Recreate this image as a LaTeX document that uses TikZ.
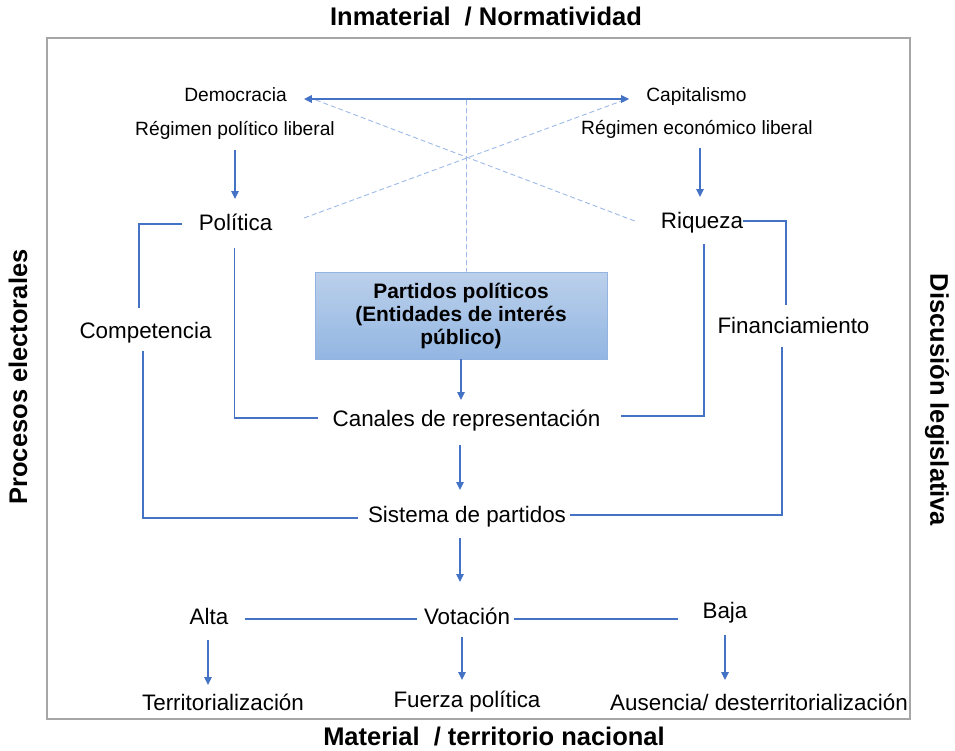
\documentclass[tikz,border=0pt]{standalone}
\usepackage{fontspec}
\setmainfont{Liberation Sans}
\usetikzlibrary{arrows.meta,calc}

\definecolor{linkblue}{HTML}{4472C4}
\definecolor{hintblue}{HTML}{9DB9E8}
\definecolor{framegray}{HTML}{A6A6A6}
\definecolor{boxtop}{HTML}{BBD0EB}
\definecolor{boxbot}{HTML}{93B6E2}
\definecolor{boxline}{HTML}{93B3E0}

\tikzset{
  lbl/.style={inner sep=0pt, anchor=base, font=\fontsize{22.4}{25}\selectfont},
  small/.style={inner sep=0pt, anchor=base, font=\fontsize{19.2}{22}\selectfont},
  header/.style={inner sep=0pt, anchor=base, font=\fontsize{25.5}{29}\selectfont\bfseries},
  side/.style={inner sep=0pt, font=\fontsize{25.5}{29}\selectfont\bfseries},
  link/.style={draw=linkblue, line width=1.6pt},
  arr/.style={link, -{Triangle[length=8pt,width=7.5pt]}},
  biarr/.style={link, {Triangle[length=8pt,width=7.5pt]}-{Triangle[length=8pt,width=7.5pt]}},
  hint/.style={draw=hintblue, line width=0.9pt, dash pattern=on 5pt off 3pt},
  corebox/.style={draw=boxline, line width=0.8pt, top color=boxtop, bottom color=boxbot,
    minimum width=292pt, minimum height=87pt, inner sep=2pt, align=center,
    font=\fontsize{20.9}{23}\selectfont\bfseries}
}

\begin{document}
\begin{tikzpicture}[x=1pt,y=-1pt]
\useasboundingbox (0,0) rectangle (955,750);

% outer frame and the four axis titles
\draw[framegray, line width=2.8pt] (47,38) rectangle (910,719);
\node[header] (ttop) at (486,25) {Inmaterial\ \ / Normatividad};
\node[header] (tbot) at (494,745) {Material\ \ / territorio nacional};
\node[side, rotate=90] (tleft) at (18,377) {Procesos electorales};
\node[side, rotate=-90] (tright) at (937,400) {Discusión legislativa};

% top level concepts
\node[small] (dem) at (235.5,101) {Democracia};
\node[small] (cap) at (696.5,101) {Capitalismo};
\node[small] (rpl) at (235,135) {Régimen político liberal};
\node[small] (rel) at (697,134) {Régimen económico liberal};

\node[lbl] (pol) at (235.5,230) {Política};
\node[lbl] (riq) at (702,228) {Riqueza};
\node[lbl] (comp) at (145.5,338) {Competencia};
\node[lbl] (fin) at (793.5,333) {Financiamiento};

\node[corebox] (box) at (461,315.5) {Partidos políticos\\(Entidades de interés\\público)};

\node[lbl] (can) at (466.5,426) {Canales de representación};
\node[lbl] (sis) at (467,522) {Sistema de partidos};

\node[lbl] (alta) at (209,624) {Alta};
\node[lbl] (vot) at (467,624) {Votación};
\node[lbl] (baja) at (725,618) {Baja};

\node[lbl] (terr) at (223,710) {Territorialización};
\node[lbl] (fue) at (467,707) {Fuerza política};
\node[lbl] (aus) at (759,710) {Ausencia/ desterritorialización};

% dashed guide lines crossing above the central box
\coordinate (axis) at ($(dem.base east)!0.5!(cap.base west)+(0,-1)$);
\draw[hint] ($(dem.base east)+(29,-1)$) -- ($(riq.base west)+(-26,-7)$);
\draw[hint] ($(cap.base west)+(-22,-1)$) -- ($(pol.base east)+(29,-11)$);
\draw[hint] (axis) -- ($(box.north)+(5.5,0)$);

% top double arrow
\draw[biarr] ($(dem.base east)+(17,-2)$) -- ($(cap.base west)+(-17,-2)$);

% regime arrows
\draw[arr] ($(rpl.base)+(0,15)$) -- ($(pol.base)+(-0.5,-31)$);
\draw[arr] ($(rel.base)+(3,14)$) -- ($(riq.base)+(-2,-31)$);

% brackets to the sides
\draw[link] ($(pol.base west)+(-17,-6)$) -| ($(comp.base)+(-6.5,-30)$);
\draw[link] ($(comp.base)+(-2.5,13)$) |- ($(sis.base west)+(-10,-4)$);
\draw[link] ($(riq.base east)+(0,-7)$) -| ($(fin.base)+(-7.5,-28)$);
\draw[link] ($(fin.base)+(-11.5,14)$) |- ($(sis.base east)+(4,-7)$);

% inner brackets into the representation channels
\draw[link] ($(pol.base)+(-1,18)$) |- ($(can.base west)+(-14,-8)$);
\draw[link] ($(riq.base)+(2,16)$) |- ($(can.base east)+(20,-10)$);

% central chain
\draw[arr] (box.south) -- ($(can.base)+(-5.5,-26)$);
\draw[arr] ($(can.base)+(-6.5,19)$) -- ($(sis.base)+(-7,-32)$);
\draw[arr] ($(sis.base)+(-7,16)$) -- ($(vot.base)+(-7,-42)$);

% vote level
\draw[link] ($(alta.base east)+(16,-5)$) -- ($(vot.base west)+(-7,-5)$);
\draw[link] ($(vot.base east)+(4,-5)$) -- ($(baja.base west)+(-24,1)$);
\draw[arr] ($(alta.base)+(-1,16)$) -- ($(terr.base)+(-15,-25)$);
\draw[arr] ($(vot.base)+(-5,13)$) -- ($(fue.base)+(-5,-27)$);
\draw[arr] ($(baja.base)+(0,17)$) -- ($(aus.base)+(-34,-30)$);
\end{tikzpicture}
\end{document}
